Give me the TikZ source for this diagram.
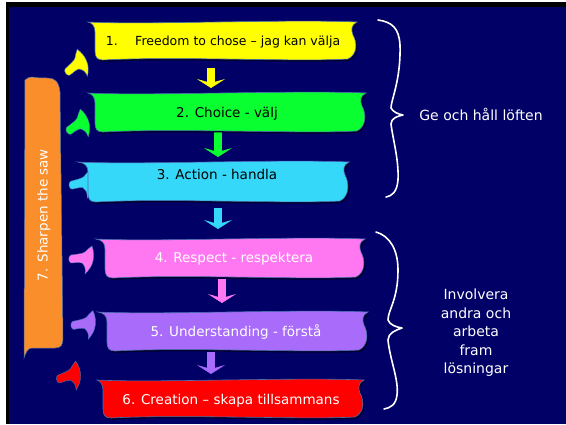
\documentclass[tikz,border=0pt]{standalone}
\usepackage{fontspec}
\setmainfont{DejaVu Sans}
\usetikzlibrary{arrows.meta,shadows}

\definecolor{navy}{HTML}{000066}
\definecolor{edgeblue}{HTML}{4A6FB0}
\definecolor{cyellow}{HTML}{FFFF00}
\definecolor{cgreen}{HTML}{0AFF30}
\definecolor{ccyan}{HTML}{36D8FA}
\definecolor{cpink}{HTML}{FF78F2}
\definecolor{cpurple}{HTML}{A86BFA}
\definecolor{cred}{HTML}{FF0000}
\definecolor{corange}{HTML}{F98E2A}

\tikzset{
  x=1pt, y=-1pt,
  banner/.style={fill=#1, draw=edgeblue, line width=0.6pt,
    drop shadow={shadow xshift=1.5pt, shadow yshift=-1.8pt, opacity=0.55, fill=black}},
  boxtext/.style={font=\fontsize{13.5}{15}\selectfont, inner sep=0pt, text=#1},
  sidetext/.style={font=\fontsize{14}{18.5}\selectfont, text=white, align=center, inner sep=0pt},
  downarrow/.style={draw=#1, line width=8pt,
    -{Stealth[width=28pt, length=9pt, inset=4pt, line width=0.5pt, fill=#1]}},
  bracepath/.style={draw=white, line width=1.6pt, line cap=round, line join=round},
  pics/bentarrow/.style={code={
    \fill[#1, draw=edgeblue, line width=0.4pt]
      (-16,-3) .. controls (-10,-4) and (-5,-4) .. (-2,-6)
      .. controls (0,-8) and (2,-10) .. (5,-12)
      .. controls (7,-7) and (7,-1) .. (6,3)
      .. controls (5,8) and (2,12) .. (-2,16)
      .. controls (-1,11) and (-2,8) .. (-5,5)
      .. controls (-9,4) and (-13,5) .. (-16,5)
      .. controls (-19,4) and (-19,-2) .. (-16,-3) -- cycle;
  }},
}

% wavy banner: #1 top-left flare x, #2 left side x, #3 right x, #4 top y, #5 bottom y, #6 colour
\newcommand\bannershape[6]{%
  \path[banner=#6] (#1,#4)
    .. controls ({#2+50},{#4+3}) and ({#3-70},{#4-3}) .. (#3,#4)
    .. controls ({#3-6},{#4+3}) and ({#3-6},{#4+8}) .. ({#3-4},{#4+13})
    .. controls ({#3},{#4+20}) and ({#3+1},{#5-6}) .. ({#3-9},{#5-1})
    .. controls ({#3-60},{#5+2}) and ({#2+80},{#5-4}) .. ({#2+8},#5)
    .. controls ({#2+2},#5) and (#2,{#5-3}) .. (#2,{#5-9})
    -- (#2,{#4+10})
    .. controls (#2,{#4+4}) and ({#2-3},{#4+1}) .. (#1,#4) -- cycle;}

\begin{document}
\begin{tikzpicture}
\useasboundingbox (0,0) rectangle (566,424);
% page frame
\fill[white] (0,0) rectangle (566,424);
\fill[black] (6,2) rectangle (566,424);
\fill[navy] (9,7) rectangle (566,424);

% side arrows feeding each step
\pic[rotate=35] at (80,62) {bentarrow=cyellow};
\pic[rotate=30] at (82,122) {bentarrow=cgreen};
\pic[rotate=8] at (87,182) {bentarrow=ccyan};
\pic at (87,258) {bentarrow=cpink};
\pic[rotate=5] at (89,323) {bentarrow=cpurple};
\pic[rotate=15] at (74,374) {bentarrow=cred};

% arrows between consecutive steps
\coordinate (d1a) at (211,68);  \coordinate (d1b) at (211,88);
\coordinate (d2a) at (218,132); \coordinate (d2b) at (218,157);
\coordinate (d3a) at (218,208); \coordinate (d3b) at (218,229);
\coordinate (d4a) at (222,279); \coordinate (d4b) at (222,303);
\coordinate (d5a) at (211,352); \coordinate (d5b) at (211,374);
\draw[downarrow=cyellow] (d1a) -- (d1b);
\draw[downarrow=cgreen] (d2a) -- (d2b);
\draw[downarrow=ccyan] (d3a) -- (d3b);
\draw[downarrow=cpink] (d4a) -- (d4b);
\draw[downarrow=cpurple] (d5a) -- (d5b);

% step banners
\bannershape{88}{95}{357}{22}{60}{cyellow}
\bannershape{88}{95}{366}{93}{132}{cgreen}
\bannershape{78}{88}{349}{162}{202}{ccyan}
\bannershape{96}{105}{365}{239}{278}{cpink}
\bannershape{98}{107}{368}{312}{351}{cpurple}
\bannershape{97}{103}{364}{380}{418}{cred}

\node[boxtext=black, font=\fontsize{12.5}{14}\selectfont] (b1) at (223,42) {1.\hspace{1.4em}Freedom to chose – jag kan välja};
\node[boxtext=black] (b2) at (227,114) {2. Choice - välj};
\node[boxtext=black] (b3) at (217,174) {3. Action - handla};
\node[boxtext=white] (b4) at (234,259) {4. Respect - respektera};
\node[boxtext=white] (b5) at (236,332) {5. Understanding - förstå};
\node[boxtext=white] (b6) at (231,401) {6. Creation – skapa tillsammans};

% sharpen-the-saw bar
\path[fill=corange, draw=edgeblue, line width=0.5pt]
  (24,358) -- (25,80) .. controls (28,78) and (30,76) .. (33,77)
  .. controls (37,78) and (42,78) .. (48,78)
  .. controls (55,78) and (59,82) .. (60,92)
  -- (63,338) .. controls (63,345) and (61,348) .. (55,348)
  -- (32,348) .. controls (28,348) and (26,352) .. (24,358) -- cycle;
\node[boxtext=white, rotate=90] (b7) at (44,215) {7. Sharpen the saw};

% braces grouping the steps
\draw[bracepath] (378,20) .. controls (392,22) and (399,28) .. (400,45)
  .. controls (401,80) and (391,100) .. (391,108)
  .. controls (393,112) and (398,114) .. (403,115)
  .. controls (398,116) and (391,118) .. (391,124)
  .. controls (393,140) and (399,160) .. (398,180)
  .. controls (397,192) and (392,196) .. (386,197);
\draw[bracepath] (376,232) .. controls (390,236) and (398,250) .. (398,270)
  .. controls (398,300) and (388,310) .. (388,320)
  .. controls (390,325) and (396,327) .. (402,328)
  .. controls (396,330) and (388,333) .. (388,340)
  .. controls (390,360) and (399,380) .. (397,395)
  .. controls (396,405) and (390,408) .. (384,409);

\node[sidetext] (g1) at (481,114) {Ge och håll löften};
\node[sidetext] (g2) at (476,333) {Involvera\\andra och\\arbeta\\fram\\lösningar};
\end{tikzpicture}
\end{document}
